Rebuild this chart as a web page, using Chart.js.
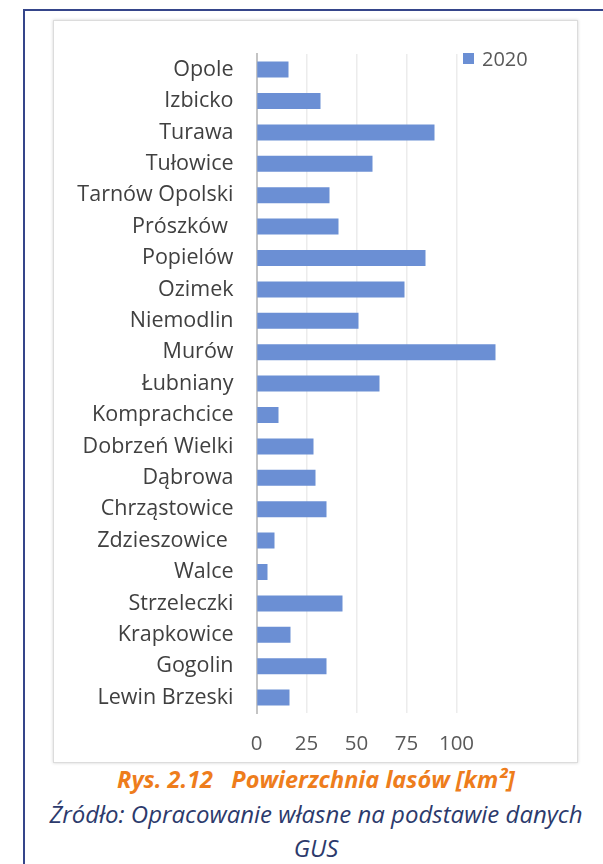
<!DOCTYPE html>
<html>
<head>
<meta charset="utf-8">
<script src="https://cdn.jsdelivr.net/npm/chart.js@4.4.1/dist/chart.umd.min.js"></script>
<style>
  body { margin: 0; background: #fff; width: 603px; height: 864px; overflow: hidden; position: relative; font-family: "Open Sans", sans-serif; }
  #frame { position: absolute; left: 23px; top: 9px; width: 700px; height: 900px; border-left: 2px solid #35458a; border-top: 2px solid #35458a; }
  #box { position: absolute; left: 53px; top: 20px; width: 523px; height: 741px; border: 1px solid #dcdcdc; box-shadow: 0 0 3px rgba(0,0,0,0.18); background: #fff; }
  #box canvas { position: absolute; left: 0; top: -2.7px; }
  #legend { position: absolute; left: 409px; top: 24px; font-size: 20px; color: #595959; display: flex; align-items: center; white-space: nowrap; }
  #legend span.sw { display: inline-block; width: 11px; height: 11px; margin-right: 8px; }
  .cap { position: absolute; left: 23px; width: 586px; text-align: center; font-style: italic; white-space: nowrap; }
  #c1 { top: 763px; color: #ee7d1c; font-weight: bold; font-size: 23.5px; }
  #c2 { top: 797px; color: #2c3a6c; font-size: 24px; }
  #c3 { top: 831px; color: #2c3a6c; font-size: 24px; }
</style>
</head>
<body>
<div id="frame"></div>
<div id="box">
  <canvas id="mycanvas" width="523" height="741"></canvas>
  <div id="legend"></div>
</div>
<div class="cap" id="c1">Rys. 2.12&nbsp;&nbsp; Powierzchnia lasów [km²]</div>
<div class="cap" id="c2">Źródło: Opracowanie własne na podstawie danych</div>
<div class="cap" id="c3">GUS</div>
<script>
var gminy = ["Opole", "Izbicko", "Turawa", "Tułowice", "Tarnów Opolski", "Prószków ", "Popielów",
	"Ozimek", "Niemodlin", "Murów", "Łubniany", "Komprachcice", "Dobrzeń Wielki", "Dąbrowa",
	"Chrząstowice", "Zdzieszowice ", "Walce", "Strzeleczki", "Krapkowice", "Gogolin", "Lewin Brzeski"];
var lasy2020 = [16, 32, 89, 58, 36.5, 41, 84.5, 74, 51, 119.5, 61.5, 11, 28.5, 29.5, 35, 9, 5.5, 43, 17, 35, 16.5];
var seriesLabel = "2020";
var xTicks = [0, 25, 50, 75, 100];

var barColor = "#6b8fd4";

var chartdata = {
	labels: gminy,
	datasets: [
		{
			label: seriesLabel,
			backgroundColor: barColor,
			borderWidth: 0,
			data: lasy2020,
			barPercentage: 0.51,
			categoryPercentage: 1
		}
	]
};

var ctx = document.getElementById("mycanvas");

var barGraph = new Chart(ctx, {
	type: 'bar',
	data: chartdata,
	options: {
		indexAxis: 'y',
		responsive: false,
		animation: false,
		layout: { padding: { top: 30, right: 76.5, bottom: -15.9, left: 0 } },
		plugins: {
			legend: { display: false },
			tooltip: { enabled: false }
		},
		scales: {
			x: {
				min: 0,
				max: 122,
				ticks: {
					stepSize: 25,
					padding: 18.5,
					color: '#595959',
					font: { family: 'Open Sans', size: 20.5 }
				},
				afterBuildTicks: function(scale) {
					scale.ticks = xTicks.map(function(v) { return { value: v }; });
				},
				grid: { color: '#ececec', lineWidth: 1.5, drawTicks: false },
				border: { display: false }
			},
			y: {
				ticks: {
					autoSkip: false,
					padding: 23,
					color: '#404040',
					font: { family: 'Open Sans', size: 21.5 }
				},
				afterFit: function(scale) { scale.width = 202.5; },
				grid: { display: false, drawTicks: false },
				border: { display: true, color: '#c4c4c4', width: 2 }
			}
		}
	}
});

// legend built from the dataset
var lg = document.getElementById("legend");
barGraph.data.datasets.forEach(function(ds) {
	var sw = document.createElement("span");
	sw.className = "sw";
	sw.style.background = ds.backgroundColor;
	lg.appendChild(sw);
	lg.appendChild(document.createTextNode(ds.label));
});
</script>
</body>
</html>
